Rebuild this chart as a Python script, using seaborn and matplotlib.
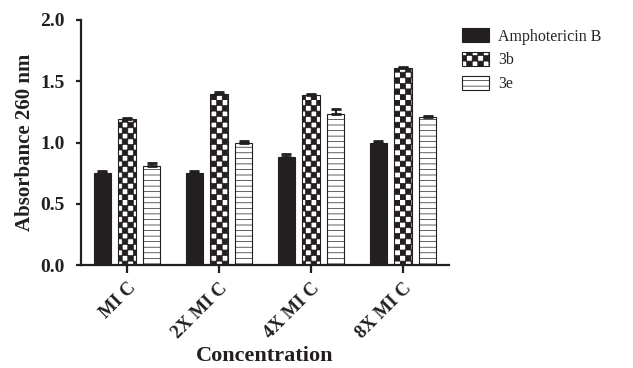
import warnings
import numpy as np
import pandas as pd
import seaborn as sns
import matplotlib.pyplot as plt
import matplotlib.hatch as mhatch
import matplotlib.patches as mpatches
from matplotlib.path import Path

warnings.filterwarnings("ignore", message=".*hatch must consist.*")

# Data
concentrations = ["MI C", "2X MI C", "4X MI C", "8X MI C"]
compounds = ["Amphotericin B", "3b", "3e"]
amphotericin = [0.75, 0.75, 0.88, 1.00]
amphotericin_err = [0.02, 0.02, 0.03, 0.01]
cmp_3b = [1.19, 1.40, 1.39, 1.61]
cmp_3b_err = [0.01, 0.01, 0.01, 0.01]
cmp_3e = [0.81, 1.00, 1.23, 1.21]
cmp_3e_err = [0.02, 0.01, 0.04, 0.01]


class CheckerHatch(mhatch.HatchPatternBase):
    """Filled checkerboard hatch, triggered by the letter 'c'."""

    def __init__(self, hatch, density):
        self.n = hatch.count("c") * density
        self.num_vertices = (self.n * self.n // 2) * 5

    def set_vertices_and_codes(self, vertices, codes):
        n = self.n
        s = 1.0 / n
        sq = np.array([[0, 0], [s, 0], [s, s], [0, s], [0, 0]])
        cells = [(i, j) for i in range(n) for j in range(n) if (i + j) % 2 == 0]
        vertices[:] = np.concatenate([sq + [i * s, j * s] for i, j in cells])
        codes[:] = np.tile([Path.MOVETO, Path.LINETO, Path.LINETO,
                            Path.LINETO, Path.CLOSEPOLY], len(cells))


mhatch._hatch_types.append(CheckerHatch)

df = pd.DataFrame({
    "Concentration": concentrations * 3,
    "Compound": np.repeat(compounds, len(concentrations)),
    "Absorbance": amphotericin + cmp_3b + cmp_3e,
    "Error": amphotericin_err + cmp_3b_err + cmp_3e_err,
})

sns.set_style("ticks")
plt.rcParams["font.family"] = ["Liberation Serif", "DejaVu Serif"]
plt.rcParams["hatch.linewidth"] = 0.5

dark = "#231f20"
colors = {"Amphotericin B": dark, "3b": "white", "3e": "white"}
hatches = {"Amphotericin B": "", "3b": "ccc", "3e": "---"}

fig = plt.figure(figsize=(6.33, 3.68), dpi=100)
ax = fig.add_axes([81 / 633, 1 - 265 / 368, 368 / 633, 245 / 368])

sns.barplot(data=df, x="Concentration", y="Absorbance", hue="Compound",
            order=concentrations, hue_order=compounds, palette=colors,
            saturation=1, width=0.8, gap=0.3, errorbar=None,
            edgecolor=dark, linewidth=0.8, legend=False, ax=ax)

for comp, container in zip(compounds, ax.containers):
    sub = df[df["Compound"] == comp].set_index("Concentration").loc[concentrations]
    xs = []
    for bar in container:
        bar.set_hatch(hatches[comp])
        xs.append(bar.get_x() + bar.get_width() / 2)
    ax.errorbar(xs, sub["Absorbance"], yerr=[np.zeros(len(xs)), sub["Error"]],
                fmt="none", ecolor=dark, elinewidth=1.5, capsize=3.5,
                capthick=2, zorder=5)

ax.set_xlim(-0.5, 3.5)
ax.set_ylim(0, 2.0)
ax.set_yticks([0, 0.5, 1.0, 1.5, 2.0])
ax.yaxis.set_major_formatter(plt.FormatStrFormatter("%.1f"))
sns.despine(ax=ax)
for side in ["left", "bottom"]:
    ax.spines[side].set_linewidth(1.6)
    ax.spines[side].set_color(dark)
ax.tick_params(axis="both", width=1.6, color=dark, labelcolor=dark)
ax.tick_params(axis="y", length=3.8, pad=8, labelsize=14)
ax.tick_params(axis="x", length=5.5, pad=5, labelsize=13.5)
for lab in ax.get_xticklabels() + ax.get_yticklabels():
    lab.set_fontweight("bold")
plt.setp(ax.get_xticklabels(), rotation=45, ha="right", va="top",
         rotation_mode="anchor")

ax.set_xlabel("Concentration", fontsize=16, fontweight="bold", color=dark, labelpad=3)
ax.set_ylabel("Absorbance 260 nm", fontsize=15, fontweight="bold", color=dark, labelpad=4)

handles = [mpatches.Patch(facecolor=colors[c], edgecolor=dark, linewidth=0.8,
                          hatch=hatches[c], label=c) for c in compounds]
fig.legend(handles=handles, loc="upper left", bbox_to_anchor=(462 / 633, 1 - 28 / 368),
           frameon=False, fontsize=11.5, handlelength=1.7, handleheight=1.0,
           handletextpad=0.55, labelspacing=0.45, borderpad=0, borderaxespad=0)

fig.savefig("out.png", dpi=100)
